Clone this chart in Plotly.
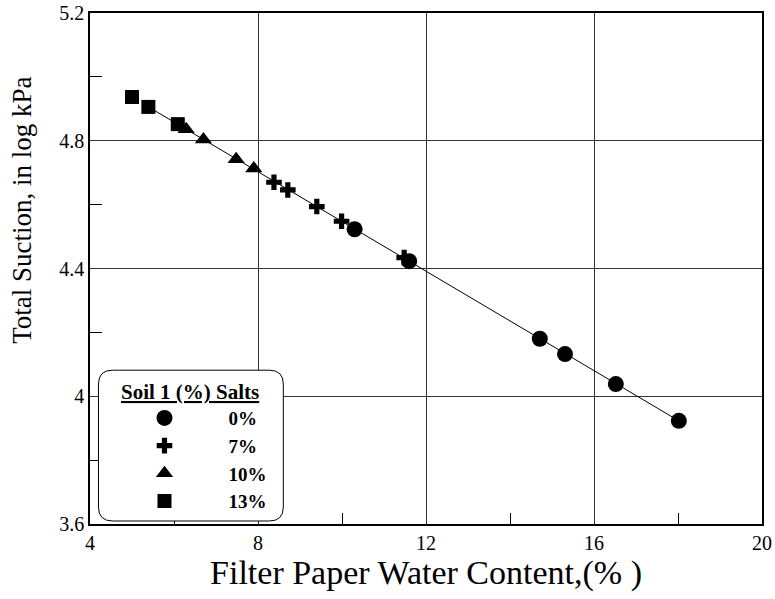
import plotly.graph_objects as go

# Данные
salt_0_x = [10.30, 11.60, 14.71, 15.31, 16.52, 18.02]
salt_0_y = [4.523, 4.423, 4.180, 4.132, 4.038, 3.923]

salt_7_x = [8.38, 8.71, 9.40, 9.99, 11.48]
salt_7_y = [4.670, 4.646, 4.594, 4.548, 4.434]

salt_10_x = [6.29, 6.70, 7.48, 7.90]
salt_10_y = [4.836, 4.804, 4.742, 4.713]

salt_13_x = [5.00, 5.39, 6.09]
salt_13_y = [4.937, 4.906, 4.852]

fit_x = [5.39, 18.02]
fit_y = [4.906, 3.923]

series_names = ['0%', '7%', '10%', '13%']

FONT = 'Liberation Serif'

fig = go.Figure()

# Линия аппроксимации
fig.add_trace(go.Scatter(
    x=fit_x, y=fit_y,
    mode='lines', showlegend=False,
    line=dict(color='black', width=1)
))

series = [
    (salt_0_x, salt_0_y, 'circle', 16),
    (salt_7_x, salt_7_y, 'cross', 13),
    (salt_10_x, salt_10_y, 'triangle-up', 15),
    (salt_13_x, salt_13_y, 'square', 14),
]

for name, (xs, ys, symbol, size) in zip(series_names, series):
    fig.add_trace(go.Scatter(
        x=xs, y=ys,
        mode='markers', name=f'<b>{name}</b>',
        marker=dict(symbol=symbol, size=size, color='black',
                    line=dict(width=0))
    ))

# Рамка легенды со скруглёнными углами
x0, x1, y0, y1 = 0.0126, 0.2877, 0.0059, 0.301
rx, ry = 0.0208, 0.0274
path = (f'M {x0 + rx},{y0} L {x1 - rx},{y0} Q {x1},{y0} {x1},{y0 + ry} '
        f'L {x1},{y1 - ry} Q {x1},{y1} {x1 - rx},{y1} '
        f'L {x0 + rx},{y1} Q {x0},{y1} {x0},{y1 - ry} '
        f'L {x0},{y0 + ry} Q {x0},{y0} {x0 + rx},{y0} Z')
fig.add_shape(type='path', path=path, xref='paper', yref='paper',
              fillcolor='white', line=dict(color='black', width=1),
              layer='above')

fig.add_annotation(
    x=0.1494, y=0.258, xref='paper', yref='paper',
    text='<b><u>Soil 1 (%) Salts</u></b>', showarrow=False,
    font=dict(family=FONT, size=21, color='black'),
    xanchor='center', yanchor='middle'
)

# Подпись оси Y (смещена вверх, как в оригинале)
fig.add_annotation(
    x=-0.1004, y=0.614, xref='paper', yref='paper',
    text='Total Suction, in log kPa', showarrow=False, textangle=-90,
    font=dict(family=FONT, size=27, color='black'),
    xanchor='center', yanchor='middle'
)

axis_common = dict(
    showline=True, linecolor='black', linewidth=1.5, mirror=True,
    showgrid=True, gridcolor='#333333', gridwidth=1,
    zeroline=False, ticks='', automargin=False,
    tickfont=dict(family=FONT, size=20, color='black'),
)

fig.update_xaxes(
    range=[4, 20], dtick=4, tick0=4,
    minor=dict(ticks='inside', ticklen=11, dtick=2, tick0=4,
               tickcolor='black', showgrid=False),
    title=dict(text='Filter Paper Water Content,(% )',
               font=dict(family=FONT, size=34, color='black'), standoff=4),
    **axis_common
)

fig.update_yaxes(
    range=[3.6, 5.2], dtick=0.4, tick0=3.6,
    tickvals=[3.6, 4.0, 4.4, 4.8, 5.2],
    ticktext=['3.6', '4', '4.4', '4.8', '5.2'],
    minor=dict(ticks='inside', ticklen=12, tickvals=[3.8, 4.2, 4.6, 5.0],
               tickcolor='black', showgrid=False),
    **axis_common
)

fig.update_layout(
    width=775, height=599,
    margin=dict(l=89.5, r=13, t=12.5, b=75),
    plot_bgcolor='white', paper_bgcolor='white',
    showlegend=True,
    legend=dict(
        x=0.0156, y=0.2444, xanchor='left', yanchor='top',
        bgcolor='rgba(0,0,0,0)', borderwidth=0,
        itemwidth=118,
        font=dict(family=FONT, size=19, color='black'),
    ),
    font=dict(family=FONT, color='black'),
)

fig.write_html('out.html', config={'displayModeBar': False},
               post_script="document.body.style.margin='0';"
                           "document.body.style.overflow='hidden';")
